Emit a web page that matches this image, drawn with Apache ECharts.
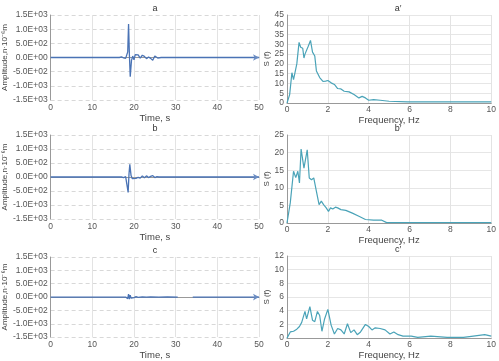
<!DOCTYPE html>
<html><head><meta charset="utf-8">
<script src="https://cdn.jsdelivr.net/npm/echarts@6/dist/echarts.min.js"></script>
<style>html,body{margin:0;padding:0;background:#fff}#c{width:499px;height:361px}</style>
</head><body><div id="c"></div>
<script>
// Time-domain traces [time s, amplitude]
const traceA = [[0,0],[16.5,0],[17,20],[17.5,-10],[18,-30],[18.3,-20],[18.5,200],[18.7,1180],[18.9,100],[19.1,-680],[19.4,-100],[19.7,50],[20,-80],[20.3,100],[20.6,30],[21,90],[21.5,-20],[22,80],[22.5,40],[23,-40],[23.5,20],[24,-30],[24.5,-100],[25,50],[25.3,80],[25.7,-20],[26.5,0],[50,0]];
const traceB = [[0,0],[17,0],[17.5,-20],[18,10],[18.3,-60],[18.6,-550],[18.8,100],[19.0,450],[19.3,50],[19.6,-60],[20,-20],[20.5,-50],[21,-10],[21.5,-40],[22,40],[22.5,-30],[23,40],[23.5,-20],[24,20],[24.5,50],[25,-20],[25.5,10],[26,0],[27,0],[50,0]];
const traceC = [[0,0],[18,0],[18.3,40],[18.5,-60],[18.7,110],[18.9,-80],[19.1,70],[19.3,-40],[19.6,30],[20,-20],[20.5,15],[21,-10],[22,8],[23,-6],[24,5],[26,-4],[28,3],[30.5,0],[30.6,null],[34,null],[34.1,0],[50,0]];
// Spectra [frequency Hz, S(f)]
const specA = [[0,0],[0.13,4.3],[0.24,15.5],[0.32,12],[0.4,13],[0.48,20],[0.59,31],[0.67,28.5],[0.77,28],[0.83,23],[0.88,25],[0.96,26],[1.04,29],[1.15,32],[1.25,26],[1.36,24],[1.44,16.4],[1.6,13],[1.76,11],[1.89,11.2],[2.0,11.5],[2.16,10.3],[2.32,9.5],[2.48,7.4],[2.64,7.2],[2.8,6],[3.04,5.7],[3.28,4.3],[3.52,2.6],[3.68,3.4],[3.84,2.6],[4.0,1.4],[4.24,1.7],[4.56,1.4],[5.0,0.9],[5.9,0.6],[10,0.6]];
const specB = [[0,0],[0.16,5.7],[0.32,14.7],[0.43,12.9],[0.53,14.7],[0.61,11.4],[0.69,21],[0.83,15.6],[0.99,20.8],[1.09,12.8],[1.2,12.3],[1.31,12.8],[1.44,9],[1.57,5.2],[1.68,6.2],[1.79,5.2],[1.92,4.3],[2.03,3.3],[2.13,4.3],[2.24,4],[2.37,4.5],[2.48,4.3],[2.64,3.8],[2.88,3.6],[3.2,2.8],[3.52,1.9],[3.84,1],[4.24,0.8],[4.64,0.8],[4.88,0.1],[10,0.1]];
const specC = [[0,0],[0.16,0.9],[0.32,1.0],[0.48,1.3],[0.61,1.7],[0.72,2.3],[0.8,2.1],[0.88,3.9],[0.96,2.8],[1.12,4.6],[1.25,2.6],[1.36,2.4],[1.49,3.9],[1.6,3.3],[1.71,1.0],[1.84,2.8],[2.0,4.2],[2.16,1.9],[2.32,0.6],[2.48,1.4],[2.64,1.2],[2.8,0.6],[2.96,2.1],[3.12,0.8],[3.28,1.2],[3.44,0.5],[3.6,0.9],[3.84,2.0],[4.0,1.7],[4.16,1.2],[4.32,1.5],[4.56,1.4],[4.8,1.2],[5.04,0.6],[5.23,0.9],[5.44,0.5],[5.68,0.3],[6.08,0.3],[6.4,0.1],[7.04,0.3],[7.84,0.1],[8.64,0.1],[9.12,0.3],[9.68,0.5],[10,0.3]];
const leftTitles = ['a','b','c'];
const rightTitles = ['a′','b′','c′'];
const specMax = [45,25,12];
const specInterval = [5,5,2];

const leftGrids = [{top:15,h:85},{top:135,h:84},{top:257,h:84}];
const rightGrids = [{top:15,h:88},{top:135,h:88},{top:256,h:88}];
const traces = [traceA,traceB,traceC];
const specs = [specA,specB,specC];

function fmtE(v){
  if (v===0) return '0.0E+00';
  const s = v.toExponential(1);
  const m = s.split('e');
  const ex = parseInt(m[1],10);
  const sign = ex<0?'-':'+';
  const a = Math.abs(ex);
  return m[0]+'E'+sign+(a<10?'0'+a:a);
}
const font = 'Liberation Sans, Arial, sans-serif';
const lab = {color:'#555', fontSize:8.5, fontFamily:font};
const grid=[], xAxis=[], yAxis=[], series=[], title=[];
for (let i=0;i<3;i++){
  grid.push({left:42, width:217, top:leftGrids[i].top, height:leftGrids[i].h});
  grid.push({left:287, width:208, top:rightGrids[i].top, height:rightGrids[i].h});
  const gl = 2*i, gr = 2*i+1;
  title.push({text:leftTitles[i], left:150, top:leftGrids[i].top-16, textAlign:'center', textStyle:{fontSize:9, fontWeight:'normal', color:'#333', fontFamily:font}});
  title.push({text:rightTitles[i], left:393, top:rightGrids[i].top-16, textAlign:'center', textStyle:{fontSize:9, fontWeight:'normal', color:'#333', fontFamily:font}});
  xAxis.push({gridIndex:gl, type:'value', min:0, max:50, interval:10,
    name:'Time, s', nameLocation:'middle', nameGap:10, nameTextStyle:{color:'#444', fontSize:9.5, fontFamily:font},
    axisLine:{show:true, lineStyle:{color:'#999'}}, axisTick:{show:false}, axisLabel:Object.assign({margin:3},lab),
    splitLine:{show:true, lineStyle:{color:'#e3e3e3', width:1}}});
  yAxis.push({gridIndex:gl, type:'value', min:-1500, max:1500, interval:500,
    name:'Amplitude,n·10⁻⁶m', nameLocation:'middle', nameGap:34, nameTextStyle:{color:'#444', fontSize:8, fontFamily:font},
    axisLine:{show:true, lineStyle:{color:'#999'}}, axisTick:{show:false},
    axisLabel:Object.assign({margin:3, formatter:fmtE},lab),
    splitLine:{show:true, lineStyle:{color:'#d8d8d8', type:[4,3], width:1}}});
  xAxis.push({gridIndex:gr, type:'value', min:0, max:10, interval:2,
    name:'Frequency, Hz', nameLocation:'middle', nameGap:8, nameTextStyle:{color:'#444', fontSize:9.5, fontFamily:font},
    axisLine:{show:true, lineStyle:{color:'#999'}}, axisTick:{show:false}, axisLabel:Object.assign({margin:2},lab),
    splitLine:{show:true, lineStyle:{color:'#e3e3e3'}}});
  yAxis.push({gridIndex:gr, type:'value', min:0, max:specMax[i], interval:specInterval[i],
    name:'S (f)', nameLocation:'middle', nameGap:15, nameTextStyle:{color:'#444', fontSize:8, fontFamily:font},
    axisLine:{show:true, lineStyle:{color:'#999'}}, axisTick:{show:false}, axisLabel:Object.assign({margin:3},lab),
    splitLine:{show:true, lineStyle:{color:'#e6e6e6'}}});
  series.push({type:'line', xAxisIndex:gl, yAxisIndex:gl, data:traces[i], showSymbol:false, connectNulls:false,
    lineStyle:{color:'#4a73b5', width:1.3}, silent:true, animation:false,
    markPoint:{silent:true, symbol:'arrow', symbolSize:[5,6], symbolRotate:-90, itemStyle:{color:'#6a8cc2'}, label:{show:false}, data:[{coord:[50,0]}]}});
  series.push({type:'line', xAxisIndex:gr, yAxisIndex:gr, data:specs[i], showSymbol:false,
    lineStyle:{color:'#4aa3b8', width:1.2}, silent:true, animation:false});
}
const chart = echarts.init(document.getElementById('c'), null, {renderer:'canvas'});
chart.setOption({animation:false, title, grid, xAxis, yAxis, series});
</script></body></html>
